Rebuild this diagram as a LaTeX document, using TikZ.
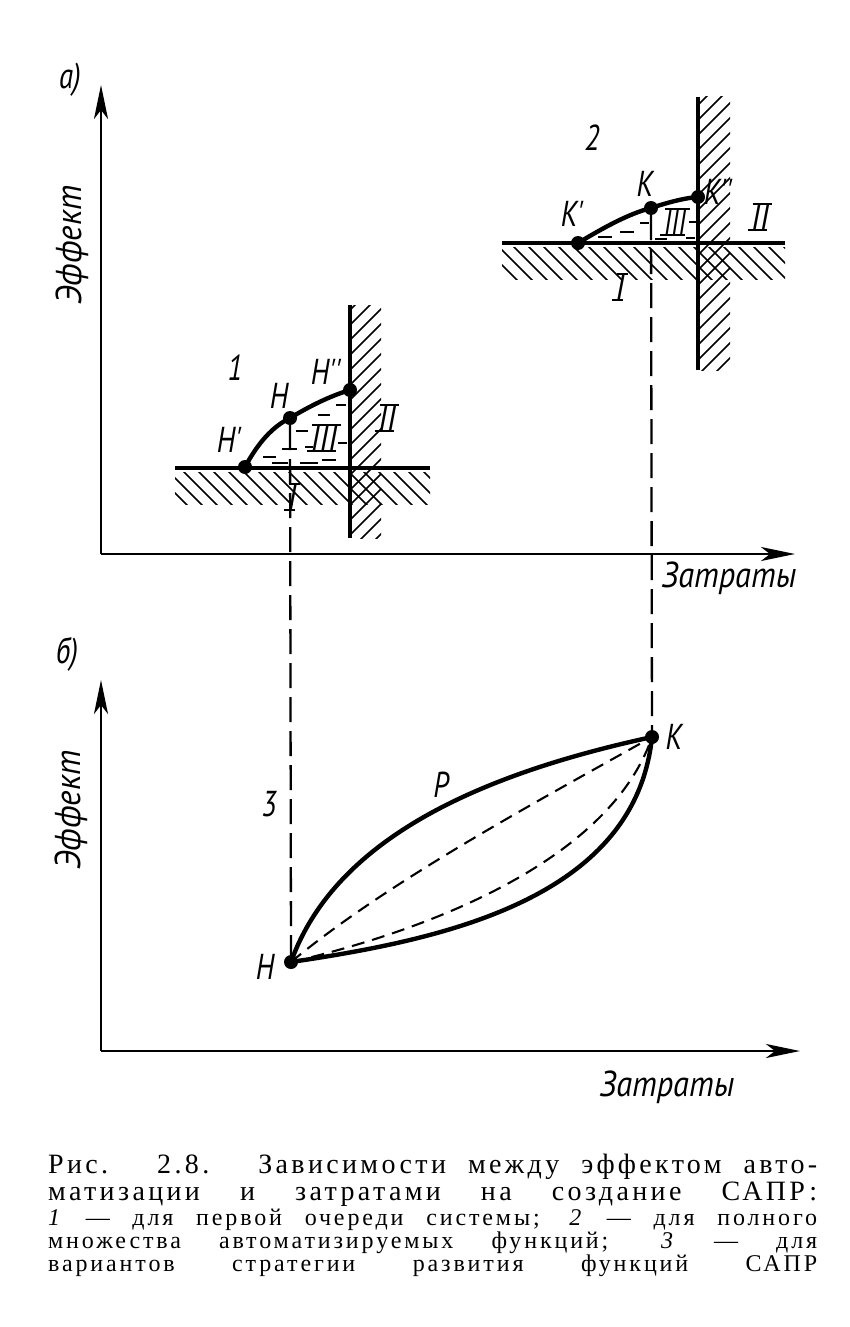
\documentclass[tikz,border=0pt]{standalone}
\usepackage{graphicx}
\usepackage{fontspec}
\setmainfont{Liberation Serif}
\newfontfamily\drw{PT Sans}
\newfontfamily\capbigfont[LetterSpace=12]{Liberation Serif}
\newfontfamily\capsmallfont[LetterSpace=12]{Liberation Serif}
\usetikzlibrary{arrows.meta}
\newcommand\gost[2][0.8]{\scalebox{#1}[1]{#2}}
\newcommand\capline[1]{\makebox[769pt][s]{#1}}
\newcommand\rombar[1]{%
  \draw[bar] ([xshift=2.5pt]#1.north west) -- ([xshift=2.5pt]#1.north east);
  \draw[bar] ([xshift=-2.5pt]#1.south west) -- ([xshift=-2.5pt]#1.south east);}
\begin{document}
\begin{tikzpicture}[x=1pt,y=-1pt,
  axis/.style={line width=2.8pt,-{Stealth[length=34pt,width=14pt,inset=9pt]}},
  bound/.style={line width=3.8pt},
  hatch/.style={line width=1.7pt},
  curvek/.style={line width=4.4pt},
  proj/.style={line width=2.3pt,dash pattern=on 25pt off 9pt},
  var/.style={line width=2.1pt,dash pattern=on 13pt off 8pt},
  shadeln/.style={line width=1.4pt},
  bar/.style={line width=1.9pt},
  dotn/.style={circle,fill,inner sep=0pt,minimum size=14pt},
  lbl/.style={font=\drw\itshape\fontsize{36}{36}\selectfont,inner sep=0pt},
  rn/.style={font=\drw\itshape\fontsize{35}{35}\selectfont,inner xsep=1pt,inner ysep=0.5pt},
  capbig/.style={font=\capbigfont\fontsize{28}{28}\selectfont,inner sep=0pt,anchor=base west},
  capsmall/.style={font=\capsmallfont\fontsize{24}{24}\selectfont,inner sep=0pt,anchor=base west}]
\useasboundingbox (0,0) rectangle (849,1327);

% ---------- panel a ----------
\coordinate (oa) at (101,554);
\coordinate (ya) at (101,85);
\coordinate (xa) at (795,554);
\draw[axis] (oa) -- (ya);
\draw[axis] (oa) -- (xa);
\node[lbl] (la) at (70,80) {\gost{а)}};
\node[lbl,rotate=90] (effa) at (72,245) {\gost[0.92]{Эффект}};
\node[lbl] (costa) at (729,578) {\gost[0.9]{Затраты}};

% group 1 hatching
\begin{scope}
\clip (175,472) rectangle (430,504);
\foreach \i in {0,...,19} \draw[hatch] (150+\i*15,468) -- ++(40,40);
\end{scope}
\begin{scope}
\clip (352,305) rectangle (381,538);
\foreach \i in {0,...,19} \draw[hatch] (345,300+\i*15) -- ++(45,-45);
\end{scope}
\coordinate (g1l) at (175,468);
\coordinate (g1r) at (430,468);
\coordinate (g1t) at (350,305);
\coordinate (g1b) at (350,538);
\draw[bound] (g1l) -- (g1r);
\draw[bound] (g1t) -- (g1b);
% region III shading
\foreach \a/\b/\c in {263/457/276,272/463/288,282/449/297,300/463/318,296/431/308,318/415/330,336/405/346,338/443/347,322/460/336,305/447/313}
  \draw[shadeln] (\a,\b) -- (\c,\b);
\node[dotn] (h1) at (245,467) {};
\node[dotn] (h) at (290,418) {};
\node[dotn] (h2) at (350,390) {};
\draw[curvek] (h1.center) .. controls (258,443) and (272,427) .. (h.center)
  .. controls (310,406) and (330,396) .. (h2.center);
\node[lbl] (t1) at (235,368) {\gost{1}};
\node[lbl] (th) at (279,396) {\gost{Н}};
\node[lbl] (th1) at (229,440) {\gost{Н'}};
\node[lbl] (th2) at (326,372) {\gost{Н''}};
\node[rn] (r13) at (324,438) {\gost[0.9]{III}};
\node[rn] (r12) at (387,418) {\gost[0.9]{II}};
\node[rn] (r11) at (292,497) {\gost[0.9]{I}};
\rombar{r13}\rombar{r12}\rombar{r11}

% group 2 hatching
\begin{scope}
\clip (502,247) rectangle (785,279);
\foreach \i in {0,...,20} \draw[hatch] (480+\i*15,243) -- ++(40,40);
\end{scope}
\begin{scope}
\clip (700,97) rectangle (730,370);
\foreach \i in {0,...,20} \draw[hatch] (693,95+\i*15) -- ++(45,-45);
\end{scope}
\coordinate (g2l) at (502,243);
\coordinate (g2r) at (785,243);
\coordinate (g2t) at (698,97);
\coordinate (g2b) at (698,370);
\draw[bound] (g2l) -- (g2r);
\draw[bound] (g2t) -- (g2b);
\foreach \a/\b/\c in {598/237/612,620/232/634,640/223/649,655/239/667,686/238/695,689/222/696}
  \draw[shadeln] (\a,\b) -- (\c,\b);
\node[dotn] (k1) at (578,243) {};
\node[dotn] (k) at (651,208) {};
\node[dotn] (k2) at (698,197) {};
\draw[curvek] (k1.center) .. controls (603,228) and (628,214) .. (k.center)
  .. controls (666,203) and (684,198) .. (k2.center);
\node[lbl] (t2) at (592,138) {\gost{2}};
\node[lbl] (tk) at (645,184) {\gost{К}};
\node[lbl] (tk1) at (572,214) {\gost{К'}};
\node[lbl] (tk2) at (718,192) {\gost{К''}};
\node[rn] (r23) at (675,222) {\gost[0.75]{III}};
\node[rn] (r22) at (760,217) {\gost[0.9]{II}};
\node[rn] (r21) at (620,287) {\gost[0.9]{I}};
\rombar{r23}\rombar{r22}\rombar{r21}

% ---------- panel b ----------
\coordinate (ob) at (101,1051);
\coordinate (yb) at (101,680);
\coordinate (xb) at (800,1051);
\draw[axis] (ob) -- (yb);
\draw[axis] (ob) -- (xb);
\node[lbl] (lb) at (67,654) {\gost{б)}};
\node[lbl,rotate=90] (effb) at (71,810) {\gost[0.92]{Эффект}};
\node[lbl] (costb) at (667,1087) {\gost[0.9]{Затраты}};

\node[dotn] (hb) at (291,962) {};
\node[dotn] (kb) at (652,737) {};
\draw[proj] (h) -- (hb);
\draw[proj] (k) -- (kb);
\draw[curvek] (hb.center) .. controls (338,830) and (500,770) .. (kb.center);
\draw[curvek] (hb.center) .. controls (440,940) and (635,900) .. (kb.center);
\draw[var] (hb.center) .. controls (390,880) and (540,800) .. (kb.center);
\draw[var] (hb.center) .. controls (430,930) and (610,860) .. (kb.center);
\node[lbl] (thb) at (265,967) {\gost{Н}};
\node[lbl] (tkb) at (674,737) {\gost{К}};
\node[lbl] (tp) at (441,785) {\gost{Р}};
\node[lbl] (t3) at (269,804) {\gost{3}};

% ---------- caption ----------
\node[capbig] (c1) at (48,1173) {\capline{Рис. 2.8. Зависимости между эффектом авто-}};
\node[capbig] (c2) at (48,1200) {\capline{матизации и затратами на создание САПР:}};
\node[capsmall] (c3) at (48,1225) {\capline{\textit{1} — для первой очереди системы; \textit{2} — для полного}};
\node[capsmall] (c4) at (48,1248) {\capline{множества автоматизируемых функций; \textit{3} — для}};
\node[capsmall] (c5) at (48,1271) {\capline{вариантов стратегии развития функций САПР}};
\end{tikzpicture}
\end{document}
